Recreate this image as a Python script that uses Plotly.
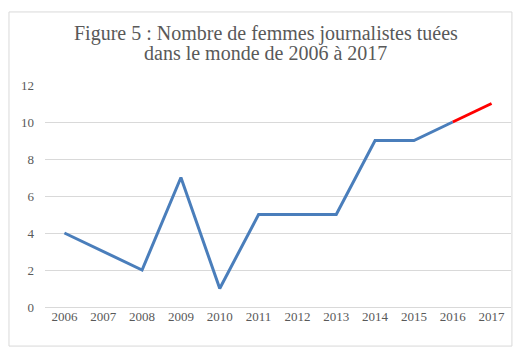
import plotly.graph_objects as go

years = ["2006", "2007", "2008", "2009", "2010", "2011", "2012", "2013", "2014", "2015", "2016", "2017"]
killed = [4, 3, 2, 7, 1, 5, 5, 5, 9, 9, 10, 11]
y_ticks = [0, 2, 4, 6, 8, 10, 12]
title_lines = ["Figure 5 : Nombre de femmes journalistes tuées", "dans le monde de 2006 à 2017"]

font_family = "Liberation Serif, DejaVu Serif, serif"
gray = "#595959"

fig = go.Figure()
fig.add_trace(go.Scatter(x=years[:11], y=killed[:11], mode="lines",
                         line=dict(color="#4A7EBB", width=3), showlegend=False))
fig.add_trace(go.Scatter(x=years[10:], y=killed[10:], mode="lines",
                         line=dict(color="#FF0000", width=3), showlegend=False))

fig.update_layout(
    width=525, height=355,
    margin=dict(l=37, r=22, t=77, b=56),
    paper_bgcolor="white", plot_bgcolor="white",
    font=dict(family=font_family, size=13, color=gray),
)
for txt, yp in zip(title_lines, [1.23, 1.144]):
    fig.add_annotation(text=txt, xref="paper", yref="paper", x=0.474, y=yp,
                       xanchor="center", yanchor="middle", showarrow=False,
                       font=dict(family=font_family, size=20, color=gray))
fig.update_xaxes(type="category", categoryorder="array", categoryarray=years,
                 range=[-0.5, 11.5], showgrid=False, showline=False, ticks="",
                 tickfont=dict(size=13, color=gray), fixedrange=True)
fig.update_yaxes(range=[0, 12], tickvals=y_ticks, showgrid=True, gridcolor="#D9D9D9",
                 gridwidth=1, zeroline=True, zerolinecolor="#D9D9D9", zerolinewidth=1,
                 showline=False, ticks="", ticklabelstandoff=10,
                 tickfont=dict(size=13, color=gray), fixedrange=True)
fig.add_shape(type="rect", xref="paper", yref="paper",
              x0=-0.0773, x1=1.002, y0=-0.176, y1=1.329,
              line=dict(color="#D9D9D9", width=1), layer="below")

fig.write_html("out.html")
